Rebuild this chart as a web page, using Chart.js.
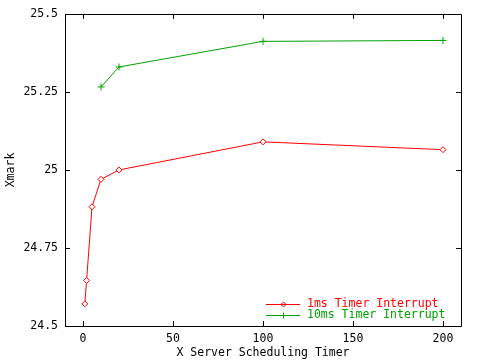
<!DOCTYPE html>
<html>
<head>
<meta charset="utf-8">
<script src="https://cdn.jsdelivr.net/npm/chart.js@4"></script>
<style>
  html, body { margin: 0; padding: 0; background: #fff; }
  #wrap { width: 480px; height: 360px; }
</style>
</head>
<body>
<div id="wrap"><canvas id="xmarkChart" width="480" height="360"></canvas></div>
<script>
// DATA
const timer1ms = [1, 2, 5, 10, 20, 100, 200];
const xmark1ms = [24.571, 24.646, 24.882, 24.970, 25.000, 25.090, 25.065];
const timer10ms = [10, 20, 100, 200];
const xmark10ms = [25.266, 25.330, 25.412, 25.415];
const xTicks = [0, 50, 100, 150, 200];
const yTicks = [24.5, 24.75, 25, 25.25, 25.5];

const RED = '#ff0000';
const GREEN = '#00a000';
const FONT = 'DejaVu Sans Mono';
const FONT_SIZE = 11.5;

// inward ticks, frame and key drawn like gnuplot
const framePlugin = {
    id: 'frame',
    afterDraw(chart) {
        const c = chart.ctx;
        const a = chart.chartArea;
        const xs = chart.scales.x;
        const ys = chart.scales.y;
        c.save();
        c.strokeStyle = '#000';
        c.lineWidth = 1;
        c.beginPath();
        c.rect(Math.round(a.left) + 0.5, Math.round(a.top) + 0.5,
               Math.round(a.right - a.left), Math.round(a.bottom - a.top));
        xTicks.forEach(v => {
            const px = Math.round(xs.getPixelForValue(v)) + 0.5;
            c.moveTo(px, a.bottom); c.lineTo(px, a.bottom - 5);
            c.moveTo(px, a.top); c.lineTo(px, a.top + 5);
        });
        yTicks.forEach(v => {
            const py = Math.round(ys.getPixelForValue(v)) + 0.5;
            c.moveTo(a.left, py); c.lineTo(a.left + 5, py);
            c.moveTo(a.right, py); c.lineTo(a.right - 5, py);
        });
        c.stroke();

        // key
        const keyX1 = 266, keyX2 = 300, textX = 307;
        const rows = [304, 315];
        c.font = FONT_SIZE + 'px "' + FONT + '"';
        c.textBaseline = 'middle';
        c.textAlign = 'left';
        chart.data.datasets.forEach((ds, i) => {
            const y = rows[i] + 0.5;
            c.strokeStyle = ds.borderColor;
            c.beginPath();
            c.moveTo(keyX1, y); c.lineTo(keyX2, y);
            const mx = Math.round((keyX1 + keyX2) / 2) + 0.5;
            if (ds.pointStyle === 'cross') {
                c.moveTo(mx - 3, y); c.lineTo(mx + 3, y);
                c.moveTo(mx, y - 3); c.lineTo(mx, y + 3);
            } else {
                c.moveTo(mx, y - 2.5); c.lineTo(mx + 2.5, y); c.lineTo(mx, y + 2.5);
                c.lineTo(mx - 2.5, y); c.closePath();
            }
            c.stroke();
            c.fillStyle = ds.borderColor;
            c.fillText(ds.label, textX, y);
        });
        c.restore();
    }
};

const ctx = document.getElementById('xmarkChart').getContext('2d');

Chart.defaults.font.family = FONT;
Chart.defaults.font.size = FONT_SIZE;
Chart.defaults.color = '#000';

const xmarkChart = new Chart(ctx, {
    type: 'line',
    data: {
        datasets: [
            {
                label: '1ms Timer Interrupt',
                data: timer1ms.map((t, i) => ({ x: t, y: xmark1ms[i] })),
                borderColor: RED,
                backgroundColor: '#fff',
                borderWidth: 1,
                pointStyle: 'rectRot',
                pointRadius: 3,
                pointBorderWidth: 1,
                tension: 0
            },
            {
                label: '10ms Timer Interrupt',
                data: timer10ms.map((t, i) => ({ x: t, y: xmark10ms[i] })),
                borderColor: GREEN,
                backgroundColor: GREEN,
                borderWidth: 1,
                pointStyle: 'cross',
                pointRadius: 3.5,
                pointBorderWidth: 1,
                tension: 0
            }
        ]
    },
    options: {
        responsive: false,
        animation: false,
        layout: { padding: { top: 13, right: 19, left: 0, bottom: 0 } },
        plugins: {
            legend: { display: false },
            tooltip: { enabled: false }
        },
        scales: {
            x: {
                type: 'linear',
                min: -10,
                max: 210,
                afterFit: s => { s.height = 34; },
                afterBuildTicks: s => { s.ticks = xTicks.map(v => ({ value: v })); },
                grid: { display: false, drawTicks: false },
                border: { display: false },
                ticks: { padding: 6, maxRotation: 0, callback: v => String(v) },
                title: {
                    display: true,
                    text: 'X Server Scheduling Timer',
                    padding: { top: 2, bottom: 0 }
                }
            },
            y: {
                type: 'linear',
                min: 24.5,
                max: 25.5,
                afterFit: s => { s.width = 65; },
                afterBuildTicks: s => { s.ticks = yTicks.map(v => ({ value: v })); },
                grid: { display: false, drawTicks: false },
                border: { display: false },
                ticks: { padding: 7, callback: v => String(v) },
                title: {
                    display: true,
                    text: 'Xmark',
                    padding: { top: 4, bottom: 0 }
                }
            }
        }
    },
    plugins: [framePlugin]
});
</script>
</body>
</html>
